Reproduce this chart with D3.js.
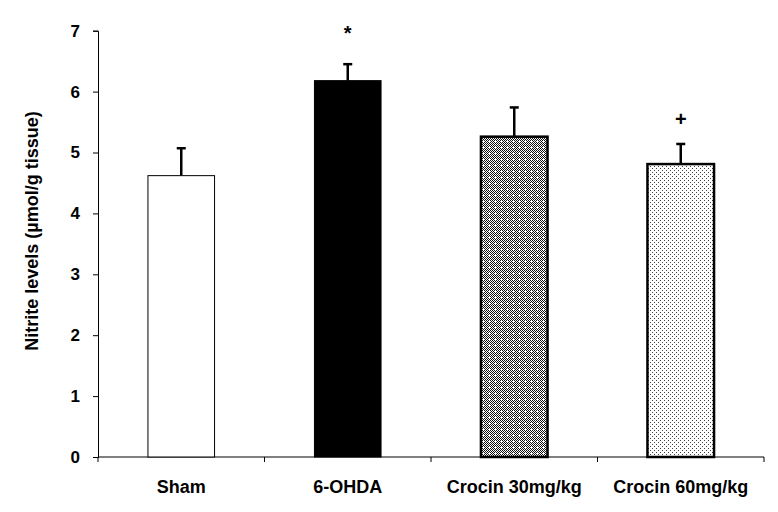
<!DOCTYPE html>
<html><head><meta charset="utf-8">
<script src="https://cdn.jsdelivr.net/npm/d3@7"></script>
<style>body{margin:0;background:#fff}svg{display:block}text{font-family:Arial,"Liberation Sans",sans-serif;font-weight:bold}</style>
</head><body><svg id="c" width="778" height="512"></svg>
<script>
const categories = ["Sham", "6-OHDA", "Crocin 30mg/kg", "Crocin 60mg/kg"];
const means = [4.62, 6.18, 5.26, 4.81];
const errors = [0.45, 0.27, 0.48, 0.33];
const marks = ["", "*", "", "+"];
const yTicks = [0, 1, 2, 3, 4, 5, 6, 7];
const fills = ["#ffffff", "#000000", "url(#pat30)", "url(#pat60)"];
const strokeW = [1, 1, 2.5, 2.5];

const svg = d3.select("#c");
const defs = svg.append("defs");
// Crocin 30 pattern: fine checker with white plus marks
const p30 = defs.append("pattern").attr("id", "pat30").attr("patternUnits", "userSpaceOnUse")
  .attr("width", 6).attr("height", 6);
p30.append("rect").attr("width", 6).attr("height", 6).attr("fill", "#fff");
for (let i = 0; i < 6; i++) for (let j = 0; j < 6; j++) if ((i + j) % 2 === 0)
  p30.append("rect").attr("x", i).attr("y", j).attr("width", 1).attr("height", 1).attr("fill", "#111");
p30.append("rect").attr("x", 2).attr("y", 3).attr("width", 3).attr("height", 1).attr("fill", "#fff");
p30.append("rect").attr("x", 3).attr("y", 2).attr("width", 1).attr("height", 3).attr("fill", "#fff");
// Crocin 60 pattern: sparse dots
const p60 = defs.append("pattern").attr("id", "pat60").attr("patternUnits", "userSpaceOnUse")
  .attr("width", 4).attr("height", 4);
p60.append("rect").attr("width", 4).attr("height", 4).attr("fill", "#fff");
p60.append("rect").attr("x", 0).attr("y", 0).attr("width", 1).attr("height", 1).attr("fill", "#444");
p60.append("rect").attr("x", 2).attr("y", 2).attr("width", 1).attr("height", 1).attr("fill", "#444");

const x0 = 98, x1 = 764, y0 = 457, y1 = 30.7;
const x = d3.scaleBand().domain(categories).range([x0, x1]).paddingInner(0.6).paddingOuter(0.3);
const y = d3.scaleLinear().domain([0, 7]).range([y0, y1]);

// y axis
const ya = svg.append("g").attr("transform", `translate(${x0},0)`)
  .call(d3.axisLeft(y).tickValues(yTicks).tickSize(5).tickPadding(13).tickFormat(d3.format("d")));
ya.selectAll("text").attr("font-size", 17).attr("fill", "#000");
ya.selectAll("line,path").attr("stroke", "#000");

// x axis with separators
const xa = svg.append("g").attr("transform", `translate(0,${y0})`);
xa.append("line").attr("x1", x0).attr("x2", x1).attr("stroke", "#000");
const seps = d3.range(categories.length + 1).map(i => x0 + i * (x1 - x0) / categories.length);
xa.selectAll("line.sep").data(seps).join("line").attr("class", "sep")
  .attr("x1", d => d).attr("x2", d => d).attr("y1", 0).attr("y2", 5).attr("stroke", "#000");
xa.selectAll("text").data(categories).join("text")
  .attr("x", d => x(d) + x.bandwidth() / 2).attr("y", 36)
  .attr("text-anchor", "middle").attr("font-size", 18).attr("fill", "#000").text(d => d);

// error bars
const g = svg.append("g");
categories.forEach((c, i) => {
  const cx = x(c) + x.bandwidth() / 2;
  g.append("line").attr("x1", cx).attr("x2", cx).attr("y1", y(means[i])).attr("y2", y(means[i] + errors[i]))
    .attr("stroke", "#000").attr("stroke-width", 2.5);
  g.append("line").attr("x1", cx - 4.5).attr("x2", cx + 4.5).attr("y1", y(means[i] + errors[i])).attr("y2", y(means[i] + errors[i]))
    .attr("stroke", "#000").attr("stroke-width", 2.5);
});
// bars
svg.append("g").selectAll("rect").data(categories).join("rect")
  .attr("x", d => x(d)).attr("width", x.bandwidth())
  .attr("y", (d, i) => y(means[i])).attr("height", (d, i) => y0 - y(means[i]))
  .attr("fill", (d, i) => fills[i]).attr("stroke", "#000").attr("stroke-width", (d, i) => strokeW[i]);

// significance marks
svg.append("g").selectAll("text").data(categories).join("text")
  .attr("x", d => x(d) + x.bandwidth() / 2)
  .attr("y", (d, i) => y(means[i] + errors[i]) - (i === 1 ? 24 : 18))
  .attr("text-anchor", "middle").attr("font-size", 20).attr("font-weight", "normal").attr("fill", "#000")
  .text((d, i) => marks[i]);

// y label
svg.append("text").attr("transform", "translate(38,231) rotate(-90)")
  .attr("text-anchor", "middle").attr("font-size", 18).attr("fill", "#000")
  .text("Nitrite levels (µmol/g tissue)");
</script></body></html>
